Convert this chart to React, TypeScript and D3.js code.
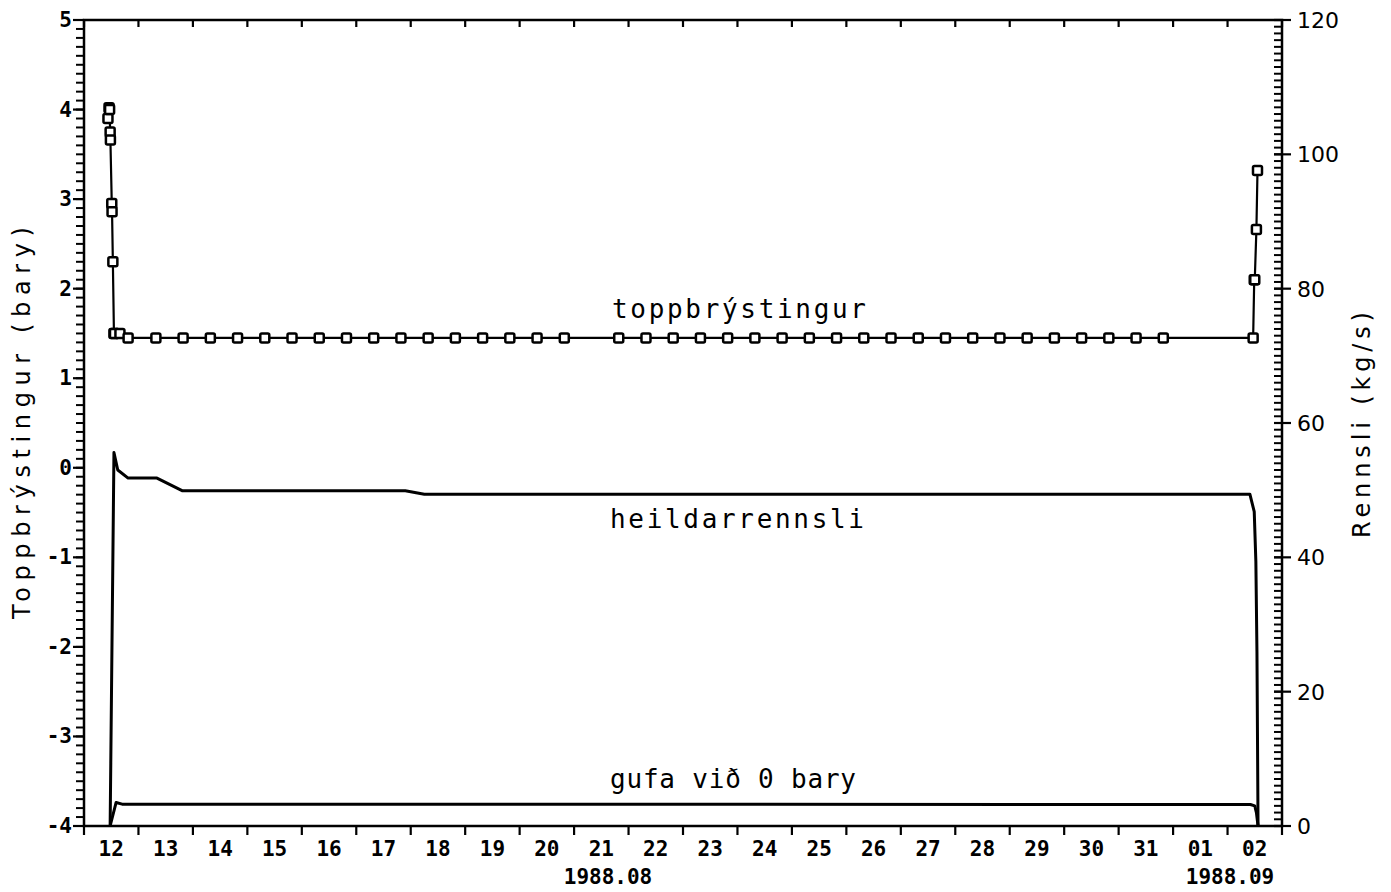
import React from "react";
import * as d3 from "d3";

// days counted from 1988-08-12 00:00
const toppDays = [
  0.44, 0.46, 0.47, 0.48, 0.485, 0.51, 0.515, 0.53, 0.55, 0.56, 0.66, 0.81,
  1.32, 1.82, 2.32, 2.82, 3.32, 3.82, 4.32, 4.82, 5.32, 5.82, 6.32, 6.82, 7.32,
  7.82, 8.32, 8.82, 9.82, 10.32, 10.82, 11.32, 11.82, 12.32, 12.82, 13.32,
  13.82, 14.32, 14.82, 15.32, 15.82, 16.32, 16.82, 17.32, 17.82, 18.32, 18.82,
  19.32, 19.82, 21.47, 21.49, 21.5, 21.53, 21.55,
];
const toppValues = [
  3.9, 4.02, 4.0, 3.75, 3.66, 2.95, 2.86, 2.3, 1.5, 1.5, 1.5, 1.45,
  1.45, 1.45, 1.45, 1.45, 1.45, 1.45, 1.45, 1.45, 1.45, 1.45, 1.45, 1.45, 1.45,
  1.45, 1.45, 1.45, 1.45, 1.45, 1.45, 1.45, 1.45, 1.45, 1.45, 1.45,
  1.45, 1.45, 1.45, 1.45, 1.45, 1.45, 1.45, 1.45, 1.45, 1.45, 1.45,
  1.45, 1.45, 1.45, 2.1, 2.1, 2.66, 3.32,
];

const heildarDays = [0.48, 0.55, 0.62, 0.81, 1.34, 1.81, 5.9, 6.25, 21.41, 21.49, 21.52, 21.54, 21.56];
const heildarValues = [0, 55.6, 53.0, 51.8, 51.8, 49.9, 49.9, 49.4, 49.4, 46.8, 39.4, 26, 0];

const gufaDays = [0.48, 0.59, 0.7, 21.42, 21.5, 21.53, 21.56];
const gufaValues = [0, 3.5, 3.25, 3.2, 3.0, 2.0, 0];

const dayLabels = ["12", "13", "14", "15", "16", "17", "18", "19", "20", "21", "22", "23", "24", "25", "26", "27", "28", "29", "30", "31", "01", "02"];
const leftTicks = [-4, -3, -2, -1, 0, 1, 2, 3, 4, 5];
const rightTicks = [0, 20, 40, 60, 80, 100, 120];

const start = new Date(1988, 7, 12);
const end = new Date(1988, 8, 3);
const toDate = (d: number) => new Date(start.getTime() + d * 864e5);

const W = 1391;
const H = 892;
const L = 84, R = 1282, T = 20, B = 826;

const x = d3.scaleTime().domain([start, end]).range([L, R]);
const yL = d3.scaleLinear().domain([-4, 5]).range([B, T]);
const yR = d3.scaleLinear().domain([0, 120]).range([B, T]);

const mono = "'DejaVu Sans Mono', monospace";
const sans = "'DejaVu Sans', sans-serif";

export default function App() {
  const topp = toppDays.map((d, i) => [x(toDate(d)), yL(toppValues[i])] as [number, number]);
  const heil = heildarDays.map((d, i) => [x(toDate(d)), yR(heildarValues[i])] as [number, number]);
  const gufa = gufaDays.map((d, i) => [x(toDate(d)), yR(gufaValues[i])] as [number, number]);
  const line = d3.line();

  const days = d3.timeDay.range(start, d3.timeDay.offset(end, 1));
  const leftMinor = d3.range(-40, 51).map((v) => v / 10);
  const rightMinor = d3.range(0, 121);

  return (
    <svg width={W} height={H} style={{ position: "absolute", left: 0, top: 0, background: "#fff" }}>
      <rect x={0} y={0} width={W} height={H} fill="#fff" />
      {/* frame */}
      <rect x={L} y={T} width={R - L} height={B - T} fill="none" stroke="#000" strokeWidth={2.5} />

      {/* bottom and top day ticks */}
      {days.map((d, i) => (
        <g key={"xt" + i}>
          <line x1={x(d)} x2={x(d)} y1={B} y2={B + 9} stroke="#000" strokeWidth={2.2} />
          <line x1={x(d)} x2={x(d)} y1={T} y2={T + 7} stroke="#000" strokeWidth={2.2} />
        </g>
      ))}
      {dayLabels.map((lab, i) => (
        <text key={"xl" + i} x={x(d3.timeHour.offset(days[i], 12))} y={856} textAnchor="middle"
          fontFamily={mono} fontSize={21} fontWeight="bold">{lab}</text>
      ))}
      <text x={608} y={884} textAnchor="middle" fontFamily={mono} fontSize={21} fontWeight="bold">1988.08</text>
      <text x={1230} y={884} textAnchor="middle" fontFamily={mono} fontSize={21} fontWeight="bold">1988.09</text>

      {/* left axis */}
      {leftMinor.map((v, i) => (
        <line key={"lm" + i} x1={L - 8} x2={L} y1={yL(v)} y2={yL(v)} stroke="#000" strokeWidth={2} />
      ))}
      {leftTicks.map((v) => (
        <g key={"lt" + v}>
          <line x1={L - 11} x2={L} y1={yL(v)} y2={yL(v)} stroke="#000" strokeWidth={2.2} />
          <text x={L - 12} y={yL(v) + 7} textAnchor="end" fontFamily={mono} fontSize={21} fontWeight="bold">{v}</text>
        </g>
      ))}

      {/* right axis */}
      {rightMinor.map((v) => (
        <line key={"rm" + v} x1={R - 8} x2={R} y1={yR(v)} y2={yR(v)} stroke="#000" strokeWidth={2} />
      ))}
      {rightTicks.map((v) => (
        <g key={"rt" + v}>
          <line x1={R - 8} x2={R + 9} y1={yR(v)} y2={yR(v)} stroke="#000" strokeWidth={2.2} />
          <text x={R + 15} y={yR(v) + 8} textAnchor="start" fontFamily={sans} fontSize={22}>{v}</text>
        </g>
      ))}

      {/* axis titles */}
      <text transform={`translate(30,423) rotate(-90)`} textAnchor="middle" fontFamily={sans} fontSize={24}
        textLength={392} lengthAdjust="spacing">Toppbrýstingur  (bary)</text>
      <text transform={`translate(1370,425) rotate(-90)`} textAnchor="middle" fontFamily={sans} fontSize={24}
        textLength={226} lengthAdjust="spacing">Rennsli  (kg/s)</text>

      {/* series */}
      <path d={line(heil) || ""} fill="none" stroke="#000" strokeWidth={3} strokeLinejoin="round" />
      <path d={line(gufa) || ""} fill="none" stroke="#000" strokeWidth={3} strokeLinejoin="round" />
      <path d={line(topp) || ""} fill="none" stroke="#000" strokeWidth={2.2} />
      {topp.map(([px, py], i) => (
        <rect key={"m" + i} x={px - 4.5} y={py - 4.5} width={9} height={9} rx={1.5}
          fill="#fff" stroke="#000" strokeWidth={2.5} />
      ))}

      {/* series labels */}
      <text x={612} y={318} fontFamily={mono} fontSize={26} textLength={254} lengthAdjust="spacing">toppbrýstingur</text>
      <text x={610} y={528} fontFamily={mono} fontSize={26} textLength={254} lengthAdjust="spacing">heildarrennsli</text>
      <text x={610} y={788} fontFamily={mono} fontSize={26} textLength={246} lengthAdjust="spacing">gufa við 0 bary</text>
    </svg>
  );
}
